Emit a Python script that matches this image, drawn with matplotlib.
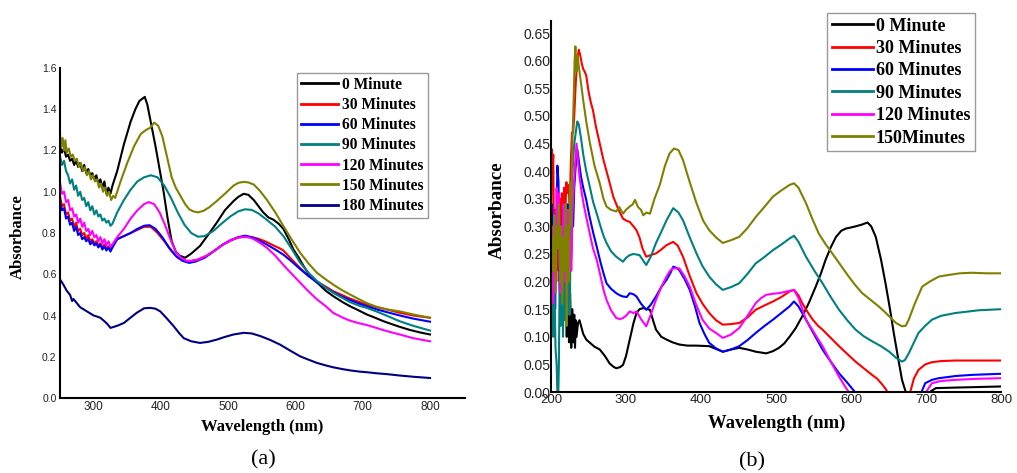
import matplotlib
matplotlib.use("Agg")
import matplotlib.pyplot as plt
import numpy as np

# ---------------- Panel (a) data ----------------
wl_a0 = [250,253,256,259,262,265,268,271,274,277,280,283,286,289,292,295,298,301,304,307,310,313,316,319,322,325,328,
         335,345,355,362,368,372,376,380,386,392,398,404,410,416,422,428,436,445,458,470,483,495,508,515,523,530,538,545,
         552,560,567,575,582,590,597,605,612,620,632,645,656,670,681,695,706,720,731,745,755,770,785,800]
ab_a0 = [1.22,1.19,1.21,1.17,1.18,1.15,1.16,1.13,1.15,1.12,1.14,1.10,1.13,1.09,1.11,1.08,1.09,1.06,1.08,1.04,1.06,1.02,1.05,0.99,1.02,0.99,1.03,
         1.10,1.23,1.34,1.40,1.44,1.45,1.46,1.42,1.32,1.22,1.11,1.00,0.87,0.76,0.71,0.69,0.68,0.70,0.737,0.79,0.85,0.91,0.955,0.975,0.99,0.985,0.96,0.93,
         0.90,0.875,0.865,0.845,0.82,0.77,0.72,0.68,0.64,0.60,0.56,0.52,0.494,0.465,0.445,0.423,0.405,0.387,0.372,0.356,0.345,0.330,0.318,0.308]

wl_a30 = [250,253,256,259,262,265,268,271,274,277,280,283,286,289,292,295,298,301,304,307,310,313,316,319,322,325,328,
          335,345,355,365,375,385,395,405,415,425,435,445,455,468,480,493,505,515,525,535,545,557,567,577,582,595,607,620,632,
          645,656,670,681,695,706,720,735,755,775,800]
ab_a30 = [0.98,0.93,0.94,0.89,0.90,0.86,0.87,0.83,0.85,0.81,0.82,0.79,0.80,0.77,0.79,0.76,0.77,0.75,0.76,0.74,0.75,0.73,0.745,0.725,0.735,0.72,0.735,
          0.77,0.785,0.80,0.815,0.83,0.83,0.80,0.76,0.715,0.68,0.665,0.665,0.672,0.69,0.715,0.745,0.765,0.778,0.782,0.78,0.772,0.757,0.74,0.725,0.715,0.67,0.63,0.59,0.565,
          0.54,0.518,0.498,0.482,0.465,0.453,0.44,0.43,0.413,0.40,0.389]

wl_a60 = [250,253,256,259,262,265,268,271,274,277,280,283,286,289,292,295,298,301,304,307,310,313,316,319,322,325,328,
          335,345,355,365,375,383,392,402,412,422,432,442,452,465,478,490,503,515,525,535,545,557,570,582,595,607,620,632,
          645,656,670,681,695,706,720,735,755,775,800]
ab_a60 = [0.96,0.91,0.92,0.87,0.88,0.84,0.85,0.81,0.83,0.79,0.80,0.77,0.78,0.76,0.77,0.745,0.76,0.74,0.75,0.73,0.745,0.72,0.735,0.715,0.73,0.71,0.73,
          0.77,0.785,0.80,0.82,0.835,0.838,0.82,0.78,0.73,0.69,0.665,0.655,0.662,0.68,0.71,0.74,0.765,0.78,0.787,0.78,0.765,0.745,0.72,0.695,0.66,0.625,0.59,0.56,
          0.535,0.513,0.49,0.475,0.457,0.445,0.43,0.417,0.40,0.385,0.37]

wl_a90 = [250,253,256,259,262,265,268,271,274,277,280,283,286,289,292,295,298,301,304,307,310,313,316,319,322,325,328,
          335,345,355,365,375,385,395,405,415,425,435,445,455,465,478,490,503,515,525,535,545,557,570,582,595,607,620,632,
          645,656,670,681,695,706,720,735,755,775,800]
ab_a90 = [1.17,1.13,1.15,1.10,1.08,1.04,1.06,1.01,1.03,0.98,1.00,0.96,0.97,0.93,0.95,0.91,0.93,0.89,0.91,0.88,0.89,0.86,0.87,0.85,0.86,0.835,0.845,
          0.90,0.96,1.01,1.05,1.07,1.08,1.07,1.03,0.97,0.90,0.84,0.80,0.782,0.785,0.81,0.845,0.88,0.905,0.915,0.912,0.895,0.865,0.83,0.785,0.72,0.656,0.605,0.567,
          0.535,0.51,0.485,0.465,0.447,0.437,0.42,0.40,0.372,0.35,0.327]

wl_a120 = [250,253,256,259,262,265,268,271,274,277,280,283,286,289,292,295,298,301,304,307,310,313,316,319,322,325,328,
           335,345,355,365,375,382,390,398,406,414,422,430,438,445,455,468,480,493,505,515,525,535,545,557,570,582,595,607,620,632,
           645,656,670,681,695,706,720,735,755,775,800]
ab_a120 = [1.045,0.99,1.00,0.95,0.96,0.91,0.92,0.88,0.89,0.85,0.87,0.83,0.85,0.81,0.82,0.79,0.81,0.78,0.79,0.76,0.78,0.75,0.77,0.74,0.76,0.735,0.745,
           0.78,0.82,0.87,0.91,0.94,0.95,0.94,0.90,0.84,0.77,0.71,0.68,0.665,0.664,0.67,0.69,0.715,0.745,0.767,0.778,0.782,0.775,0.757,0.73,0.69,0.645,0.60,0.559,0.515,0.478,
           0.445,0.413,0.39,0.375,0.362,0.354,0.34,0.325,0.308,0.29,0.275]

wl_a150 = [250,252,254,256,258,260,263,266,269,272,275,278,281,284,287,290,293,296,299,302,305,308,311,314,317,320,323,326,329,332,
           340,350,360,370,378,384,390,396,402,409,416,422,429,436,442,448,455,463,472,483,495,508,515,523,530,538,547,557,570,582,595,
           607,620,632,645,656,668,681,695,706,720,735,755,775,800]
ab_a150 = [1.28,1.22,1.26,1.20,1.25,1.19,1.21,1.17,1.18,1.15,1.16,1.12,1.14,1.10,1.12,1.08,1.10,1.06,1.08,1.05,1.06,1.02,1.04,1.00,1.02,0.98,1.00,0.96,0.98,0.97,
           1.05,1.14,1.22,1.28,1.30,1.31,1.335,1.32,1.27,1.17,1.07,1.02,0.98,0.94,0.915,0.905,0.90,0.907,0.925,0.955,0.99,1.03,1.043,1.048,1.045,1.035,1.005,0.963,0.90,0.834,0.765,
           0.704,0.65,0.607,0.575,0.55,0.525,0.502,0.478,0.46,0.443,0.43,0.42,0.405,0.389]

wl_a180 = [250,255,260,265,268,270,275,280,285,290,295,300,305,310,315,320,325,330,335,345,355,364,375,384,392,399,409,419,427,434,
           445,458,470,483,495,508,523,535,548,562,577,592,607,620,632,645,656,670,681,695,706,720,735,755,775,800]
ab_a180 = [0.575,0.55,0.52,0.50,0.47,0.48,0.46,0.44,0.43,0.42,0.41,0.40,0.395,0.389,0.375,0.36,0.34,0.345,0.35,0.364,0.39,0.413,0.435,0.437,0.433,0.42,0.385,0.348,0.315,0.29,
           0.275,0.267,0.272,0.283,0.296,0.308,0.316,0.313,0.30,0.282,0.259,0.23,0.202,0.185,0.17,0.158,0.149,0.14,0.134,0.128,0.125,0.12,0.116,0.109,0.103,0.097]

labels_a = ["0 Minute", "30 Minutes", "60 Minutes", "90 Minutes", "120 Minutes", "150 Minutes", "180 Minutes"]
colors_a = ["#000000", "#ff0000", "#0000ff", "#008080", "#ff00ff", "#808000", "#000080"]

# ---------------- Panel (b) data ----------------
wl_b0 = [210,211.5,213,214.5,216,217.5,219,220,221,222.5,224,225.5,227,228.5,230,231,232,233,234,236,238,240,243,247,252,258,265,272,278,283,287,292,296,
         300,305,310,314,318,323,328,332,336,340,347,354,362,371,382,394,411,420,429,440,451,462,473,487,496,504,511,518,526,535,544,553,560,566,573,
         580,587,593,600,606,614,622,627,633,640,646,652,657,663,668,673,678,690,699,705,713,739,770,800]
ab_b0 = [0.25,0.32,0.18,0.34,0.22,0.366,0.15,0.33,0.10,0.25,0.09,0.18,0.08,0.15,0.09,0.14,0.08,0.13,0.10,0.125,0.13,0.12,0.105,0.095,0.089,0.082,0.077,0.065,0.052,0.046,0.043,0.045,0.049,
         0.065,0.095,0.125,0.143,0.15,0.152,0.15,0.149,0.13,0.113,0.10,0.095,0.09,0.086,0.084,0.084,0.083,0.078,0.073,0.077,0.08,0.077,0.073,0.07,0.074,0.08,0.088,0.10,0.115,0.137,0.162,0.191,0.215,0.239,0.262,
         0.281,0.292,0.296,0.298,0.30,0.303,0.307,0.30,0.281,0.24,0.197,0.15,0.107,0.06,0.022,0.0,-0.02,-0.03,-0.002,0.0,0.007,0.008,0.009,0.01]

wl_b30 = [200,201,202,203,204,205.5,207,208.5,210,211.5,213,214.5,216,217.5,219,220.5,222,223.5,225,226.5,228,229.5,231,233,235,237,239,241,243,245,247,
          250,253,256,260,265,270,276,283,290,296,301,305,310,314,318,322,327,333,340,347,354,363,369,376,385,394,402,411,420,429,440,451,462,473,485,
          496,507,518,524,530,535,542,549,556,562,573,584,595,606,617,628,635,642,647,652,660,670,677,679,684,690,699,708,720,739,770,800]
ab_b30 = [0.30,0.44,0.40,0.43,0.25,0.33,0.20,0.30,0.22,0.35,0.28,0.36,0.30,0.37,0.32,0.38,0.36,0.375,0.33,0.42,0.47,0.47,0.50,0.56,0.60,0.62,0.61,0.595,0.585,0.58,0.573,
          0.545,0.525,0.51,0.48,0.45,0.42,0.39,0.354,0.33,0.314,0.31,0.308,0.30,0.293,0.28,0.26,0.245,0.248,0.251,0.258,0.266,0.272,0.265,0.245,0.21,0.179,0.16,0.143,0.13,0.122,0.123,0.125,0.135,0.149,0.157,
          0.164,0.172,0.182,0.185,0.175,0.161,0.145,0.131,0.12,0.113,0.098,0.083,0.069,0.055,0.043,0.031,0.024,0.013,0.004,-0.01,-0.03,-0.02,-0.005,0.0,0.025,0.04,0.05,0.054,0.056,0.057,0.057,0.057]

wl_b60 = [200,201,202.5,204,205.5,207,208.5,210,211.5,213,214.5,216,217.5,219,220.5,222,223.5,225,226.5,228,229.5,231,233,235,237,240,243,247,251,256,261,266,270,274,
          280,287,292,296,301,305,310,314,320,327,333,340,347,354,359,363,367,371,378,385,392,398,405,411,420,429,440,451,462,473,485,496,507,518,524,
          530,540,551,562,573,584,595,604,610,650,680,690,694,699,708,717,740,761,800]
ab_b60 = [0.25,0.34,0.20,0.30,0.15,0.27,0.41,0.38,0.20,0.30,0.18,0.33,0.22,0.30,0.20,0.34,0.25,0.30,0.22,0.30,0.30,0.37,0.41,0.44,0.42,0.39,0.37,0.348,0.32,0.29,0.263,0.235,0.215,0.197,
          0.187,0.179,0.175,0.173,0.172,0.179,0.177,0.173,0.16,0.149,0.158,0.173,0.19,0.203,0.215,0.227,0.225,0.221,0.205,0.185,0.155,0.125,0.104,0.089,0.079,0.073,0.077,0.083,0.094,0.107,0.12,0.131,0.143,0.155,0.164,
          0.155,0.131,0.104,0.077,0.055,0.034,0.017,0.002,-0.01,-0.05,-0.03,-0.005,0.0,0.016,0.022,0.025,0.029,0.031,0.033]

wl_b90 = [200,201.5,203,204.5,206,207.5,208.5,209.5,210.5,211.5,213,214.5,216,217.5,219,220.5,222,223.5,225,226.5,228,229.5,231,233,235,237,240,243,247,252,256,261,266,270,274,
          280,287,292,296,300,305,310,318,322,327,333,340,347,354,363,370,376,385,394,402,411,420,429,440,451,462,473,485,496,507,518,524,530,540,551,562,573,
          584,595,606,617,628,640,651,660,668,672,677,684,690,699,708,720,739,770,800]
ab_b90 = [0.15,0.22,0.10,0.20,0.08,0.05,0.0,-0.02,0.05,0.20,0.12,0.25,0.10,0.22,0.13,0.27,0.14,0.30,0.14,0.33,0.38,0.42,0.45,0.47,0.49,0.485,0.46,0.43,0.40,0.37,0.345,0.323,0.30,0.283,0.27,
          0.255,0.245,0.24,0.236,0.243,0.248,0.25,0.248,0.24,0.23,0.245,0.27,0.29,0.311,0.333,0.325,0.311,0.28,0.251,0.228,0.209,0.195,0.185,0.19,0.197,0.214,0.233,0.245,0.257,0.267,0.278,0.283,0.272,0.245,0.22,0.197,0.172,
          0.149,0.13,0.113,0.101,0.092,0.083,0.073,0.062,0.055,0.058,0.07,0.09,0.107,0.12,0.131,0.138,0.143,0.148,0.15]

wl_b120 = [200,201.5,203,204.5,206,207.5,209,210.5,212,213.5,215,216.5,218,219.5,221,222.5,224,225.5,227,228.5,230,232,234,236,238,241,244,247,252,256,261,266,270,274,
           280,287,292,296,300,305,310,314,320,327,333,340,347,354,359,363,371,378,385,393,402,411,420,429,440,451,462,473,480,487,496,504,514,524,530,540,551,562,573,
           584,592,597,603,650,690,697,700,708,720,739,770,800]
ab_b120 = [0.22,0.30,0.16,0.28,0.20,0.37,0.30,0.36,0.18,0.30,0.22,0.34,0.20,0.32,0.18,0.33,0.24,0.28,0.22,0.32,0.36,0.41,0.45,0.42,0.39,0.36,0.337,0.317,0.285,0.26,0.239,0.21,0.185,0.167,
           0.148,0.134,0.132,0.134,0.138,0.146,0.143,0.146,0.132,0.119,0.14,0.167,0.19,0.209,0.22,0.224,0.224,0.21,0.191,0.16,0.131,0.115,0.107,0.098,0.104,0.116,0.138,0.161,0.17,0.176,0.178,0.179,0.182,0.185,0.17,0.131,0.107,0.083,0.055,
           0.028,0.01,0.0,-0.015,-0.05,-0.02,-0.002,0.0,0.016,0.02,0.022,0.024,0.025]

wl_b150 = [200,201.5,203,204.5,206,207.5,209,210.5,212,213.5,215,216.5,218,219.5,221,222.5,224,225.5,227,228.5,230,231.5,232.5,234,235.5,237,239,243,247,252,258,265,270,274,
           280,287,291,296,300,305,309,312,316,320,323,327,332,338,345,352,358,364,370,376,385,394,403,411,420,429,440,451,462,473,485,496,507,518,524,530,540,548,557,
           566,575,586,597,606,615,626,637,645,651,660,668,673,677,685,695,705,717,730,745,761,780,800]
ab_b150 = [0.20,0.28,0.22,0.32,0.18,0.30,0.26,0.34,0.20,0.30,0.16,0.28,0.22,0.34,0.12,0.30,0.20,0.38,0.30,0.45,0.52,0.60,0.626,0.58,0.61,0.59,0.57,0.528,0.49,0.45,0.41,0.378,0.35,0.336,
           0.33,0.327,0.335,0.323,0.33,0.336,0.34,0.348,0.335,0.33,0.32,0.325,0.323,0.35,0.375,0.41,0.432,0.441,0.438,0.42,0.38,0.342,0.31,0.293,0.28,0.27,0.275,0.281,0.297,0.317,0.336,0.354,0.365,0.375,0.378,0.37,0.342,0.315,0.287,
           0.268,0.251,0.23,0.209,0.193,0.179,0.167,0.155,0.145,0.137,0.125,0.119,0.12,0.131,0.16,0.191,0.20,0.209,0.212,0.215,0.216,0.215,0.215]

labels_b = ["0 Minute", "30 Minutes", "60 Minutes", "90 Minutes", "120 Minutes", "150Minutes"]
colors_b = ["#000000", "#ff0000", "#0000ff", "#008080", "#ff00ff", "#808000"]

xticks_a = [300, 400, 500, 600, 700, 800]
yticks_a = [0.0, 0.2, 0.4, 0.6, 0.8, 1.0, 1.2, 1.4, 1.6]
xticks_b = [200, 300, 400, 500, 600, 700, 800]
yticks_b = [0.00, 0.05, 0.10, 0.15, 0.20, 0.25, 0.30, 0.35, 0.40, 0.45, 0.50, 0.55, 0.60, 0.65]

# ---------------- Figure ----------------
W, H = 1017, 473
fig = plt.figure(figsize=(W / 100, H / 100), dpi=100)

def fx(x):
    return x / W

def fy(y):
    return 1 - y / H

SERIF = ["Liberation Serif", "DejaVu Serif"]
SANS = ["Liberation Sans", "DejaVu Sans"]

def style_axes(ax, xfs, yfs, xpad, ypad):
    for s in ["top", "right"]:
        ax.spines[s].set_visible(False)
    for s in ["left", "bottom"]:
        ax.spines[s].set_linewidth(1.5)
        ax.spines[s].set_color("black")
    ax.tick_params(axis="x", length=0, pad=xpad, labelsize=xfs, labelcolor="#222222")
    ax.tick_params(axis="y", length=0, pad=ypad, labelsize=yfs, labelcolor="#222222")
    for lab in ax.get_xticklabels() + ax.get_yticklabels():
        lab.set_fontfamily(SANS)

# Panel (a)
ax_a = fig.add_axes([fx(60), fy(398), (465 - 60) / W, (398 - 68) / H])
series_a = [(wl_a0, ab_a0), (wl_a30, ab_a30), (wl_a60, ab_a60), (wl_a90, ab_a90),
            (wl_a120, ab_a120), (wl_a150, ab_a150), (wl_a180, ab_a180)]
for (wl, ab), c, lab in zip(series_a, colors_a, labels_a):
    ax_a.plot(wl, ab, color=c, lw=1.5, label=lab)
ax_a.set_xlim(250, 852)
ax_a.set_ylim(0, 1.6)
ax_a.set_xticks(xticks_a)
ax_a.set_yticks(yticks_a)
ax_a.set_yticklabels([f"{v:.1f}" for v in yticks_a])
style_axes(ax_a, 8.5, 7.5, 2.5, 2.5)
leg_a = ax_a.legend(loc="upper left", bbox_to_anchor=(fx(297), fy(73)), bbox_transform=fig.transFigure,
                    prop={"family": SERIF, "weight": "bold", "size": 11.2}, frameon=True, fancybox=False,
                    edgecolor="#999999", framealpha=1, borderpad=0.25, handlelength=2.4, handletextpad=0.25,
                    labelspacing=0.27, borderaxespad=0)
leg_a.get_frame().set_linewidth(1.0)
for l in leg_a.get_lines():
    l.set_linewidth(2.0)

# Panel (b)
ax_b = fig.add_axes([fx(551), fy(392), (1001 - 551) / W, (392 - 21) / H])
series_b = [(wl_b0, ab_b0), (wl_b30, ab_b30), (wl_b60, ab_b60), (wl_b90, ab_b90),
            (wl_b120, ab_b120), (wl_b150, ab_b150)]
for (wl, ab), c, lab in zip(series_b, colors_b, labels_b):
    ax_b.plot(wl, ab, color=c, lw=1.5, label=lab)
ax_b.set_xlim(200, 800)
ax_b.set_ylim(0, 0.672)
ax_b.set_xticks(xticks_b)
ax_b.set_yticks(yticks_b)
ax_b.set_yticklabels([f"{v:.2f}" for v in yticks_b])
style_axes(ax_b, 9.5, 10, 1.5, 0.5)
leg_b = ax_b.legend(loc="upper left", bbox_to_anchor=(fx(827), fy(13)), bbox_transform=fig.transFigure,
                    prop={"family": SERIF, "weight": "bold", "size": 13}, frameon=True, fancybox=False,
                    edgecolor="#999999", framealpha=1, borderpad=0.25, handlelength=2.3, handletextpad=0.15,
                    labelspacing=0.3, borderaxespad=0)
leg_b.get_frame().set_linewidth(1.0)
for l in leg_b.get_lines():
    l.set_linewidth(2.0)

# Axis labels and captions
fig.text(fx(18), fy(237), "Absorbance", rotation=90, ha="center", va="center",
         family=SERIF, weight="bold", size=12)
fig.text(fx(262), fy(427), "Wavelength (nm)", ha="center", va="center",
         family=SERIF, weight="bold", size=12)
fig.text(fx(263), fy(460), "(a)", ha="center", va="center", family=SERIF, size=16)

fig.text(fx(497), fy(210), "Absorbance", rotation=90, ha="center", va="center",
         family=SERIF, weight="bold", size=13.8)
fig.text(fx(777), fy(423), "Wavelength (nm)", ha="center", va="center",
         family=SERIF, weight="bold", size=13.4)
fig.text(fx(752), fy(462), "(b)", ha="center", va="center", family=SERIF, size=16)

fig.savefig("out.png", dpi=100)
